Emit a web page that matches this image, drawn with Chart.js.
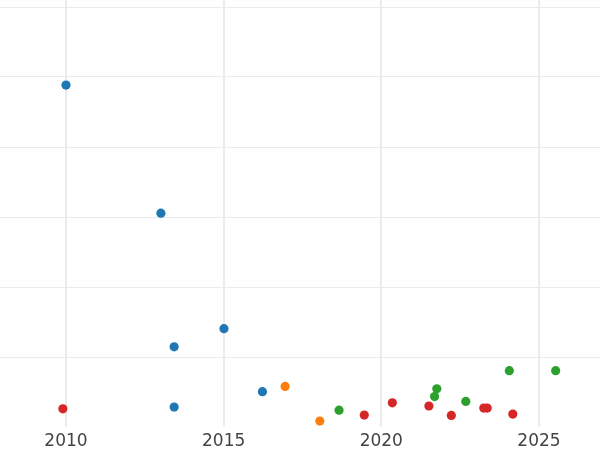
<!DOCTYPE html>
<html>
<head>
<meta charset="utf-8">
<script src="https://cdn.jsdelivr.net/npm/chart.js@4"></script>
<style>
  html, body { margin: 0; padding: 0; background: #fff; }
  #wrap { width: 600px; height: 450px; }
</style>
</head>
<body>
<div id="wrap"><canvas id="c" width="600" height="450"></canvas></div>
<script>
// Series data: [year, value]
const seriesNames = ["Series A", "Series B", "Series C", "Series D"];
const blueX   = [2010.0, 2013.01, 2013.43, 2015.01, 2013.43, 2016.23];
const blueY   = [97.7, 61.1, 22.9, 28.1, 5.7, 10.1];
const orangeX = [2016.95, 2018.05];
const orangeY = [11.6, 1.7];
const redX    = [2009.9, 2019.46, 2020.35, 2021.51, 2022.22, 2023.25, 2023.36, 2024.17];
const redY    = [5.2, 3.4, 6.9, 6.0, 3.3, 5.4, 5.4, 3.7];
const greenX  = [2018.66, 2021.69, 2021.76, 2022.68, 2024.06, 2025.53];
const greenY  = [4.8, 8.7, 10.9, 7.3, 16.1, 16.1];
const xTickValues = [2010, 2015, 2020, 2025];
const yTickValues = [20, 40, 60, 80, 100, 120];

const colors = ["#1f77b4", "#ff7f0e", "#d62728", "#2ca02c"];
const xs = [blueX, orangeX, redX, greenX];
const ys = [blueY, orangeY, redY, greenY];

const datasets = xs.map((xArr, i) => ({
  label: seriesNames[i],
  data: xArr.map((x, j) => ({ x: x, y: ys[i][j] })),
  backgroundColor: colors[i],
  borderColor: colors[i],
  borderWidth: 0,
  pointRadius: 4.6,
  pointHoverRadius: 5
}));

new Chart(document.getElementById("c"), {
  type: "scatter",
  data: { datasets: datasets },
  options: {
    responsive: false,
    animation: false,
    layout: { autoPadding: false, padding: { left: 0, right: 0, top: 0, bottom: 0 } },
    plugins: { legend: { display: false }, tooltip: { enabled: false } },
    scales: {
      x: {
        type: "linear",
        min: 2007.907,
        max: 2026.936,
        afterBuildTicks: axis => { axis.ticks = xTickValues.map(v => ({ value: v })); },
        afterFit: axis => { axis.height = 23; },
        grid: { color: "#ebebeb", lineWidth: 2, drawTicks: false },
        border: { display: false },
        ticks: {
          font: { family: "DejaVu Sans", size: 17 },
          color: "#444444",
          padding: 4,
          maxRotation: 0,
          callback: v => String(v)
        }
      },
      y: {
        type: "linear",
        min: 0,
        max: 122,
        afterBuildTicks: axis => { axis.ticks = yTickValues.map(v => ({ value: v })); },
        grid: { color: "#ebebeb", lineWidth: 1, drawTicks: false },
        border: { display: false },
        ticks: { display: false }
      }
    }
  }
});
</script>
</body>
</html>
